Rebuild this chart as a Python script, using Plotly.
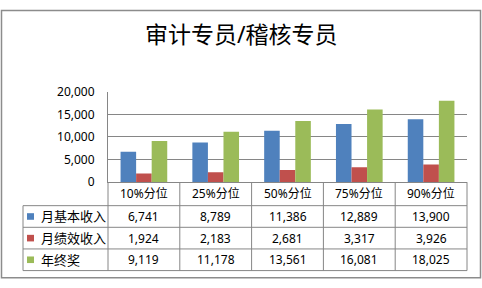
import plotly.graph_objects as go

W, H = 482, 288

categories = ["10%分位", "25%分位", "50%分位", "75%分位", "90%分位"]
series_names = ["月基本收入", "月绩效收入", "年终奖"]
base_income = [6741, 8789, 11386, 12889, 13900]
perf_income = [1924, 2183, 2681, 3317, 3926]
year_bonus = [9119, 11178, 13561, 16081, 18025]
series_values = [base_income, perf_income, year_bonus]
colors = ["#4F81BD", "#C0504D", "#9BBB59"]
y_ticks = [0, 5000, 10000, 15000, 20000]
title = "审计专员/稽核专员"

FONT = "Noto Sans, Noto Sans CJK SC, sans-serif"
GRID = "#868686"

# layout geometry in pixels
PL, PR, PT, PB = 108, 467, 88, 184
TL = 23
row_lines = [209, 232, 255, 278]


def px(x):
    return x / W


def py(y):
    return 1 - y / H


fig = go.Figure()
for name, vals, c in zip(series_names, series_values, colors):
    fig.add_trace(go.Bar(x=categories, y=vals, name=name, marker_color=c,
                         marker_line_width=0, showlegend=False))

shapes = []
# outer border
shapes.append(dict(type="rect", xref="paper", yref="paper", x0=px(1.5), x1=px(480.5),
                   y0=py(285.5), y1=py(1.5), line=dict(color="#8C8C8C", width=1.5)))
# table horizontal lines
for i, yl in enumerate(row_lines):
    shapes.append(dict(type="line", xref="paper", yref="paper", x0=px(TL), x1=px(PR),
                       y0=py(yl), y1=py(yl), line=dict(color=GRID, width=1)))
# vertical lines
cw = (PR - PL) / len(categories)
for i in range(len(categories) + 1):
    xl = PL + i * cw
    shapes.append(dict(type="line", xref="paper", yref="paper", x0=px(xl), x1=px(xl),
                       y0=py(PB), y1=py(row_lines[-1]), line=dict(color=GRID, width=1)))
shapes.append(dict(type="line", xref="paper", yref="paper", x0=px(TL), x1=px(TL),
                   y0=py(row_lines[0]), y1=py(row_lines[-1]), line=dict(color=GRID, width=1)))

annotations = []
annotations.append(dict(text=title, xref="paper", yref="paper", x=px(241), y=py(27),
                        showarrow=False, font=dict(family=FONT, size=23, color="#000"),
                        xanchor="center", yanchor="middle"))
for i, cat in enumerate(categories):
    cx = PL + (i + 0.5) * cw
    annotations.append(dict(text=cat, xref="paper", yref="paper", x=px(cx), y=py(196),
                            showarrow=False, font=dict(family=FONT, size=12, color="#000"),
                            xanchor="center", yanchor="middle"))
for r, (name, vals, c) in enumerate(zip(series_names, series_values, colors)):
    ry = (row_lines[r] + row_lines[r + 1]) / 2
    shapes.append(dict(type="rect", xref="paper", yref="paper", x0=px(27), x1=px(34),
                       y0=py(ry + 3.5), y1=py(ry - 3.5), fillcolor=c, line=dict(width=0)))
    annotations.append(dict(text=name, xref="paper", yref="paper", x=px(39), y=py(ry),
                            showarrow=False, font=dict(family=FONT, size=13, color="#000"),
                            xanchor="left", yanchor="middle"))
    for i, v in enumerate(vals):
        cx = PL + (i + 0.5) * cw
        annotations.append(dict(text=f"{v:,}", xref="paper", yref="paper", x=px(cx), y=py(ry),
                                showarrow=False, font=dict(family=FONT, size=12, color="#000"),
                                xanchor="center", yanchor="middle"))

fig.update_layout(
    width=W, height=H, margin=dict(l=0, r=0, t=0, b=0),
    paper_bgcolor="white", plot_bgcolor="white",
    barmode="group", bargap=0.35, bargroupgap=0,
    xaxis=dict(domain=[px(PL), px(PR)], showticklabels=False, showgrid=False,
               showline=True, linecolor=GRID, linewidth=1, ticks="", zeroline=False,
               fixedrange=True),
    yaxis=dict(domain=[py(PB), py(PT)], range=[0, 20000], tickvals=y_ticks,
               tickformat=",", showgrid=True, gridcolor=GRID, gridwidth=1,
               showline=True, linecolor=GRID, linewidth=1, zeroline=False,
               ticks="", ticklabelstandoff=10,
               tickfont=dict(family=FONT, size=12, color="#000")),
    shapes=shapes, annotations=annotations,
)

fig.write_html("out.html")
